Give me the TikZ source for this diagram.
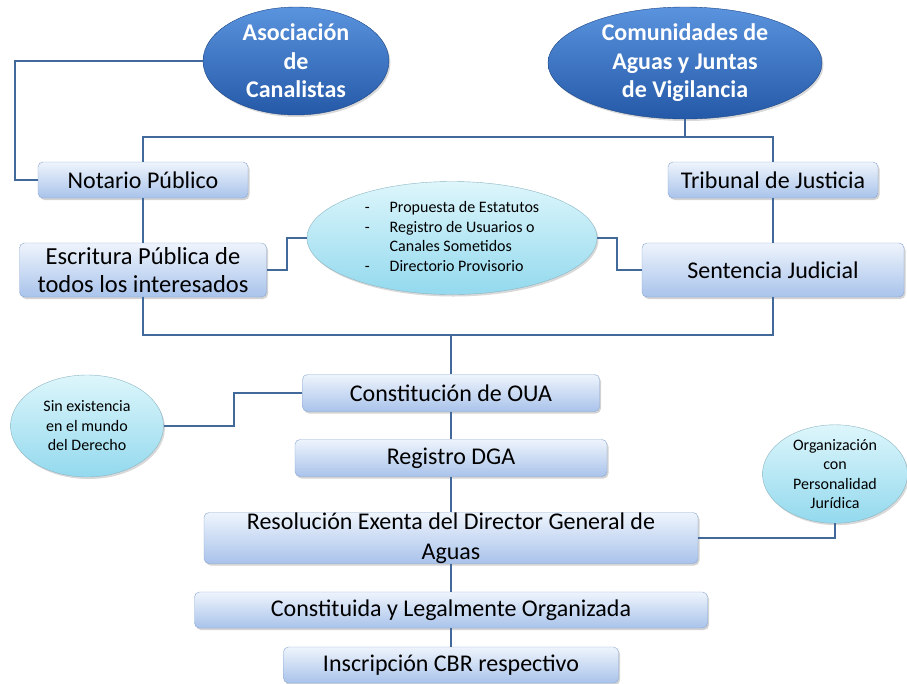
\documentclass[tikz,border=0pt]{standalone}
\usepackage{fontspec}
\setmainfont{Carlito}
\usetikzlibrary{shapes.geometric,shadows}
\definecolor{linkblue}{HTML}{41699A}
\definecolor{boxtop}{HTML}{EEF4FC}
\definecolor{boxbot}{HTML}{A9C3EB}
\definecolor{boxline}{HTML}{8AA6D2}
\definecolor{ovaltop}{HTML}{5A93DE}
\definecolor{ovalbot}{HTML}{2459A8}
\definecolor{notetop}{HTML}{DDF6FB}
\definecolor{notebot}{HTML}{93D9EE}

\begin{document}
\begin{tikzpicture}[x=1pt,y=-1pt,
	link/.style={draw=linkblue,line width=2.3pt},
	stepbox/.style={rectangle,rounded corners=5pt,draw=boxline,top color=boxtop,bottom color=boxbot,
		drop shadow={shadow xshift=1.5pt,shadow yshift=-2pt,opacity=0.35},
		inner sep=0pt,align=center,font=\fontsize{24}{28}\selectfont},
	oval/.style={ellipse,draw=ovalbot!80!black,top color=ovaltop,bottom color=ovalbot,
		drop shadow={shadow xshift=1.5pt,shadow yshift=-2pt,opacity=0.3},
		inner sep=0pt,align=center,text=white,font=\fontsize{24}{28.5}\selectfont\bfseries},
	note/.style={ellipse,draw=notebot!60!gray,top color=notetop,bottom color=notebot,
		drop shadow={shadow xshift=1.5pt,shadow yshift=-2pt,opacity=0.3},
		inner sep=0pt,align=center,font=\fontsize{16}{19.5}\selectfont}]
	\useasboundingbox (0,0) rectangle (907,683);
	% origen de la organizacion
	\node[oval,minimum width=186,minimum height=108] (asoc) at (296,61) {Asociación\\de\\Canalistas};
	\node[oval,minimum width=274,minimum height=112] (comun) at (685,63) {Comunidades de\\Aguas y Juntas\\de Vigilancia};
	\node[stepbox,minimum width=210,minimum height=36] (notario) at (143,180) {Notario Público};
	\node[stepbox,minimum width=210,minimum height=36] (tribunal) at (773,180) {Tribunal de Justicia};
	\node[stepbox,minimum width=247,minimum height=54,font=\fontsize{24.5}{28}\selectfont] (escritura) at (143,270) {Escritura Pública de\\todos los interesados};
	\node[stepbox,minimum width=262,minimum height=54] (sentencia) at (773,270) {Sentencia Judicial};
	\node[note,minimum width=290,minimum height=113] (reqs) at (452,238) {%
		\begin{tabular}{@{}l@{\hspace{20pt}}l@{}}
		- & Propuesta de Estatutos\\
		- & Registro de Usuarios o\\
		  & Canales Sometidos\\
		- & Directorio Provisorio
		\end{tabular}};
	% pasos de constitucion
	\node[stepbox,minimum width=297,minimum height=37] (constit) at (451,393) {Constitución de OUA};
	\node[note,minimum width=153,minimum height=102] (sinex) at (87,426) {Sin existencia\\en el mundo\\del Derecho};
	\node[stepbox,minimum width=312,minimum height=37] (registro) at (451,458) {Registro DGA};
	\node[stepbox,minimum width=494,minimum height=51,font=\fontsize{24}{30}\selectfont] (resol) at (451,538) {Resolución Exenta del Director General de\\Aguas};
	\node[note,minimum width=145,minimum height=97] (org) at (835,474) {Organización\\con\\Personalidad\\Jurídica};
	\node[stepbox,minimum width=513,minimum height=36] (constituida) at (451,610) {Constituida y Legalmente Organizada};
	\node[stepbox,minimum width=335,minimum height=36] (inscr) at (451,665) {Inscripción CBR respectivo};
	\coordinate (bar) at (0,137);
	\coordinate (low) at (0,335);
	% conectores
	\draw[link] (asoc.west) -| ([xshift=-23pt]notario.west) -- (notario.west);
	\draw[link] (notario.north) -- (notario.north |- bar) -- (tribunal.north |- bar) -- (tribunal.north);
	\draw[link] (comun.south) -- (comun.south |- bar);
	\draw[link] (notario) -- (escritura);
	\draw[link] (tribunal) -- (sentencia);
	\draw[link] (escritura.east) -- ++(20,0) |- (reqs.west);
	\draw[link] (reqs.east) -- ++(20,0) |- (sentencia.west);
	\draw[link] (escritura.south) -- (escritura.south |- low) -- (sentencia.south |- low) -- (sentencia.south);
	\draw[link] (constit.north |- low) -- (constit.north);
	\draw[link] (sinex.east) -- ++(70,0) |- (constit.west);
	\draw[link] (constit) -- (registro);
	\draw[link] (registro) -- (resol);
	\draw[link] (resol.east) -| (org.south);
	\draw[link] (resol) -- (constituida);
	\draw[link] (constituida) -- (inscr);
\end{tikzpicture}
\end{document}
